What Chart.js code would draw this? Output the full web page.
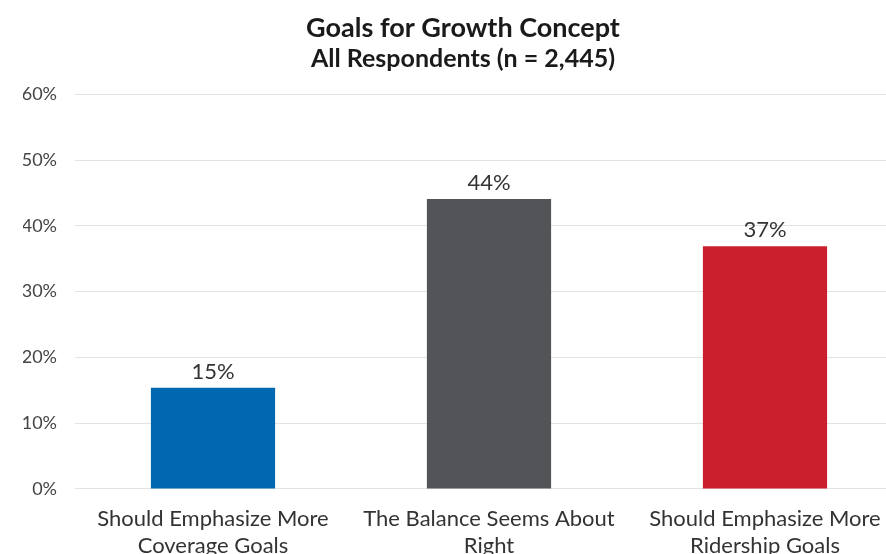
<!DOCTYPE html>
<html>
<head>
<meta charset="utf-8">
<script src="https://cdn.jsdelivr.net/npm/chart.js@4.4.1/dist/chart.umd.min.js"></script>
<style>
  html, body { margin: 0; padding: 0; background: #ffffff; overflow: hidden; width: 886px; height: 554px; }
  #wrap { position: absolute; left: 0; top: 0; width: 903px; height: 577px; }
</style>
</head>
<body>
<div id="wrap"><canvas id="c" width="903" height="577"></canvas></div>
<script>
const categories = [
  ["Should Emphasize More", "Coverage Goals"],
  ["The Balance Seems About", "Right"],
  ["Should Emphasize More", "Ridership Goals"]
];
const values = [15.4, 44.1, 36.9];
const valueLabels = ["15%", "44%", "37%"];
const barColors = ["#0068b0", "#535458", "#cb1f2d"];
const yTicks = [0, 10, 20, 30, 40, 50, 60];
const titleText = "Goals for Growth Concept";
const subtitleText = "All Respondents (n = 2,445)";

const FONT = "Lato, 'Open Sans', sans-serif";

const valueLabelPlugin = {
  id: 'valueLabels',
  afterDatasetsDraw(chart) {
    const ctx = chart.ctx;
    const meta = chart.getDatasetMeta(0);
    ctx.save();
    ctx.font = "22px " + FONT;
    ctx.fillStyle = "#333333";
    ctx.textAlign = "center";
    ctx.textBaseline = "middle";
    meta.data.forEach((bar, i) => {
      ctx.fillText(valueLabels[i], bar.x, bar.y - 16);
    });
    ctx.restore();
  }
};

new Chart(document.getElementById('c'), {
  type: 'bar',
  data: {
    labels: categories,
    datasets: [{
      data: values,
      backgroundColor: barColors,
      borderWidth: 0,
      barPercentage: 0.9,
      categoryPercentage: 0.5
    }]
  },
  options: {
    responsive: false,
    animation: false,
    devicePixelRatio: 1,
    layout: { padding: { left: 23, right: 0, top: 12, bottom: 2 } },
    plugins: {
      legend: { display: false },
      tooltip: { enabled: false },
      title: {
        display: true,
        text: titleText,
        color: "#1a1a1a",
        font: { family: FONT, size: 27, weight: 'bold' },
        padding: { top: 0, bottom: 0 }
      },
      subtitle: {
        display: true,
        text: subtitleText,
        color: "#1a1a1a",
        font: { family: FONT, size: 25, weight: 'bold' },
        padding: { top: 0, bottom: 20 }
      }
    },
    scales: {
      x: {
        grid: { display: false, drawTicks: false },
        border: { display: false },
        ticks: {
          color: "#333333",
          font: { family: FONT, size: 22, lineHeight: 1.23 },
          padding: 16,
          maxRotation: 0,
          autoSkip: false
        }
      },
      y: {
        min: 0,
        max: 60,
        afterFit(scale) { scale.width = 52; },
        afterBuildTicks(scale) { scale.ticks = yTicks.map(v => ({ value: v })); },
        grid: { color: "#e3e3e3", lineWidth: 1, drawTicks: false },
        border: { display: false },
        ticks: {
          color: "#444444",
          font: { family: FONT, size: 18 },
          padding: 18,
          callback: v => v + "%"
        }
      }
    }
  },
  plugins: [valueLabelPlugin]
});
</script>
</body>
</html>
